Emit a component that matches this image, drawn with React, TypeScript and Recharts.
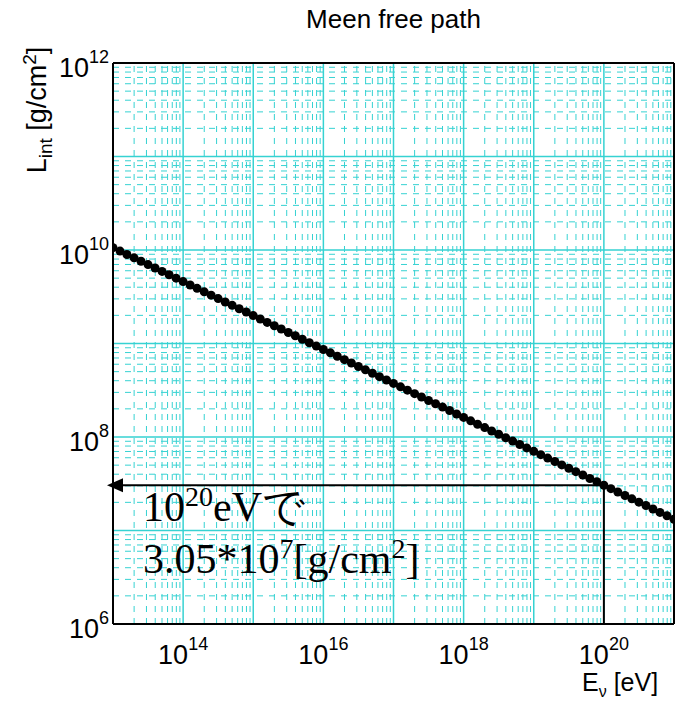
import React from 'react'
import { ComposedChart, Line, XAxis, YAxis, ReferenceLine, ReferenceDot } from 'recharts'

// energy E_nu [eV], ten points per decade
const energy = [
  1e13, 1.26e13, 1.58e13, 2e13, 2.51e13, 3.16e13, 3.98e13, 5.01e13, 6.31e13, 7.94e13,
  1e14, 1.26e14, 1.58e14, 2e14, 2.51e14, 3.16e14, 3.98e14, 5.01e14, 6.31e14, 7.94e14,
  1e15, 1.26e15, 1.58e15, 2e15, 2.51e15, 3.16e15, 3.98e15, 5.01e15, 6.31e15, 7.94e15,
  1e16, 1.26e16, 1.58e16, 2e16, 2.51e16, 3.16e16, 3.98e16, 5.01e16, 6.31e16, 7.94e16,
  1e17, 1.26e17, 1.58e17, 2e17, 2.51e17, 3.16e17, 3.98e17, 5.01e17, 6.31e17, 7.94e17,
  1e18, 1.26e18, 1.58e18, 2e18, 2.51e18, 3.16e18, 3.98e18, 5.01e18, 6.31e18, 7.94e18,
  1e19, 1.26e19, 1.58e19, 2e19, 2.51e19, 3.16e19, 3.98e19, 5.01e19, 6.31e19, 7.94e19,
  1e20, 1.26e20, 1.58e20, 2e20, 2.51e20, 3.16e20, 3.98e20, 5.01e20, 6.31e20, 7.94e20,
  1e21,
]

// L_int [g/cm^2]
const lint = [
  1.06e10, 9.74e9, 8.96e9, 8.24e9, 7.58e9, 6.98e9, 6.42e9, 5.9e9, 5.43e9, 5e9,
  4.59e9, 4.22e9, 3.89e9, 3.57e9, 3.29e9, 3.02e9, 2.78e9, 2.56e9, 2.35e9, 2.17e9,
  1.99e9, 1.83e9, 1.68e9, 1.55e9, 1.43e9, 1.31e9, 1.21e9, 1.11e9, 1.02e9, 9.38e8,
  8.63e8, 7.94e8, 7.3e8, 6.72e8, 6.18e8, 5.68e8, 5.23e8, 4.81e8, 4.42e8, 4.07e8,
  3.74e8, 3.44e8, 3.17e8, 2.91e8, 2.68e8, 2.46e8, 2.27e8, 2.09e8, 1.92e8, 1.76e8,
  1.62e8, 1.49e8, 1.37e8, 1.26e8, 1.16e8, 1.07e8, 9.82e7, 9.04e7, 8.31e7, 7.65e7,
  7.03e7, 6.47e7, 5.95e7, 5.47e7, 5.03e7, 4.63e7, 4.26e7, 3.92e7, 3.6e7, 3.32e7,
  3.05e7, 2.8e7, 2.58e7, 2.37e7, 2.18e7, 2.01e7, 1.85e7, 1.7e7, 1.56e7, 1.44e7,
  1.32e7,
]

const xTicks = [1e14, 1e16, 1e18, 1e20]
const yTicks = [1e6, 1e8, 1e10, 1e12]
const xDecades = [1e13, 1e14, 1e15, 1e16, 1e17, 1e18, 1e19, 1e20]
const yDecades = [1e6, 1e7, 1e8, 1e9, 1e10, 1e11]
const minorSteps = [2, 3, 4, 5, 6, 7, 8, 9]

const markE = 1e20
const markL = 3.05e7

const data = energy.map((e, i) => ({ e, lint: lint[i] }))

const xMinor = xDecades.flatMap((d) => minorSteps.map((m) => m * d))
const yMinor = yDecades.flatMap((d) => minorSteps.map((m) => m * d))
const xMajor = xDecades.slice(1)
const yMajor = yDecades.slice(1)

const GRID = '#36d2d2'
const SANS = '"Liberation Sans", Arial, sans-serif'
const SERIF = '"Liberation Serif", "Times New Roman", serif'

const exp = (v: number) => Math.round(Math.log10(v))

const XTick = (props: any) => {
  const { x, y, payload } = props
  return (
    <text x={x} y={y + 38} textAnchor="middle" fontFamily={SANS} fontSize={27} fill="#000">
      10<tspan dy={-14} fontSize={18}>{exp(payload.value)}</tspan>
    </text>
  )
}

const YTick = (props: any) => {
  const { x, y, payload } = props
  return (
    <text x={x - 2} y={y + 14} textAnchor="end" fontFamily={SANS} fontSize={27} fill="#000">
      10<tspan dy={-14} fontSize={18}>{exp(payload.value)}</tspan>
    </text>
  )
}

const ArrowNote = (props: any) => {
  const { cx, cy } = props
  return (
    <g>
      <path d={`M${cx - 6},${cy} L${cx + 10},${cy - 7} L${cx + 10},${cy + 7} Z`} fill="#000" />
      <text x={cx + 30} y={cy + 36} fontFamily={SERIF} fontSize={42} fill="#000">
        10<tspan dy={-15} fontSize={28}>20</tspan>
        <tspan dy={15}>eVで</tspan>
      </text>
      <text x={cx + 30} y={cy + 88} fontFamily={SERIF} fontSize={42} fill="#000">
        3.05*10<tspan dy={-15} fontSize={28}>7</tspan>
        <tspan dy={15}>[g/cm</tspan>
        <tspan dy={-15} fontSize={28}>2</tspan>
        <tspan dy={15}>]</tspan>
      </text>
    </g>
  )
}

export default function App() {
  return (
    <div style={{ position: 'absolute', left: 0, top: 0, width: 675, height: 704, background: '#fff' }}>
      <div
        style={{
          position: 'absolute', left: 113, width: 561, top: 4, textAlign: 'center',
          fontFamily: SANS, fontSize: 26, color: '#000',
        }}
      >
        Meen free path
      </div>
      <div
        style={{
          position: 'absolute', left: 38, top: 110, transform: 'translate(-50%, -50%) rotate(-90deg)',
          whiteSpace: 'nowrap', fontFamily: SANS, fontSize: 27, color: '#000',
        }}
      >
        L<sub style={{ fontSize: 19 }}>int</sub> [g/cm<sup style={{ fontSize: 19 }}>2</sup>]
      </div>
      <div
        style={{
          position: 'absolute', left: 582, top: 668, whiteSpace: 'nowrap',
          fontFamily: SANS, fontSize: 25, color: '#000',
        }}
      >
        E<sub style={{ fontSize: 16 }}>ν</sub> [eV]
      </div>
      <ComposedChart width={675} height={704} data={data} margin={{ top: 63, right: 1, bottom: 40, left: 0 }}>
        <XAxis
          dataKey="e"
          type="number"
          scale="log"
          domain={[1e13, 1e21]}
          ticks={xTicks}
          interval={0}
          allowDataOverflow
          height={40}
          tickLine={false}
          tickSize={0}
          axisLine={{ stroke: '#000', strokeWidth: 2 }}
          tick={<XTick />}
        />
        <YAxis
          type="number"
          scale="log"
          domain={[1e6, 1e12]}
          ticks={yTicks}
          interval={0}
          allowDataOverflow
          width={113}
          tickLine={false}
          tickSize={0}
          axisLine={{ stroke: '#000', strokeWidth: 2 }}
          tick={<YTick />}
        />
        {xMinor.map((v) => (
          <ReferenceLine key={'xm' + v} x={v} stroke={GRID} strokeWidth={1} strokeDasharray="6 6" />
        ))}
        {yMinor.map((v) => (
          <ReferenceLine key={'ym' + v} y={v} stroke={GRID} strokeWidth={1} strokeDasharray="6 6" />
        ))}
        {xMajor.map((v) => (
          <ReferenceLine key={'xM' + v} x={v} stroke={GRID} strokeWidth={1.5} />
        ))}
        {yMajor.map((v) => (
          <ReferenceLine key={'yM' + v} y={v} stroke={GRID} strokeWidth={1.5} />
        ))}
        <ReferenceLine y={1e12} stroke="#000" strokeWidth={2} ifOverflow="visible" />
        <ReferenceLine x={1e21} stroke="#000" strokeWidth={2} ifOverflow="visible" />
        <Line
          dataKey="lint"
          stroke="#000"
          strokeWidth={3}
          dot={{ r: 4.5, fill: '#000', stroke: '#000', strokeWidth: 0 }}
          isAnimationActive={false}
        />
        <ReferenceLine
          segment={[{ x: 1e13, y: markL }, { x: markE, y: markL }]}
          stroke="#000"
          strokeWidth={2}
          ifOverflow="visible"
        />
        <ReferenceLine
          segment={[{ x: markE, y: 1e6 }, { x: markE, y: markL }]}
          stroke="#000"
          strokeWidth={2}
          ifOverflow="visible"
        />
        <ReferenceDot x={1e13} y={markL} ifOverflow="visible" shape={<ArrowNote />} />
      </ComposedChart>
    </div>
  )
}
